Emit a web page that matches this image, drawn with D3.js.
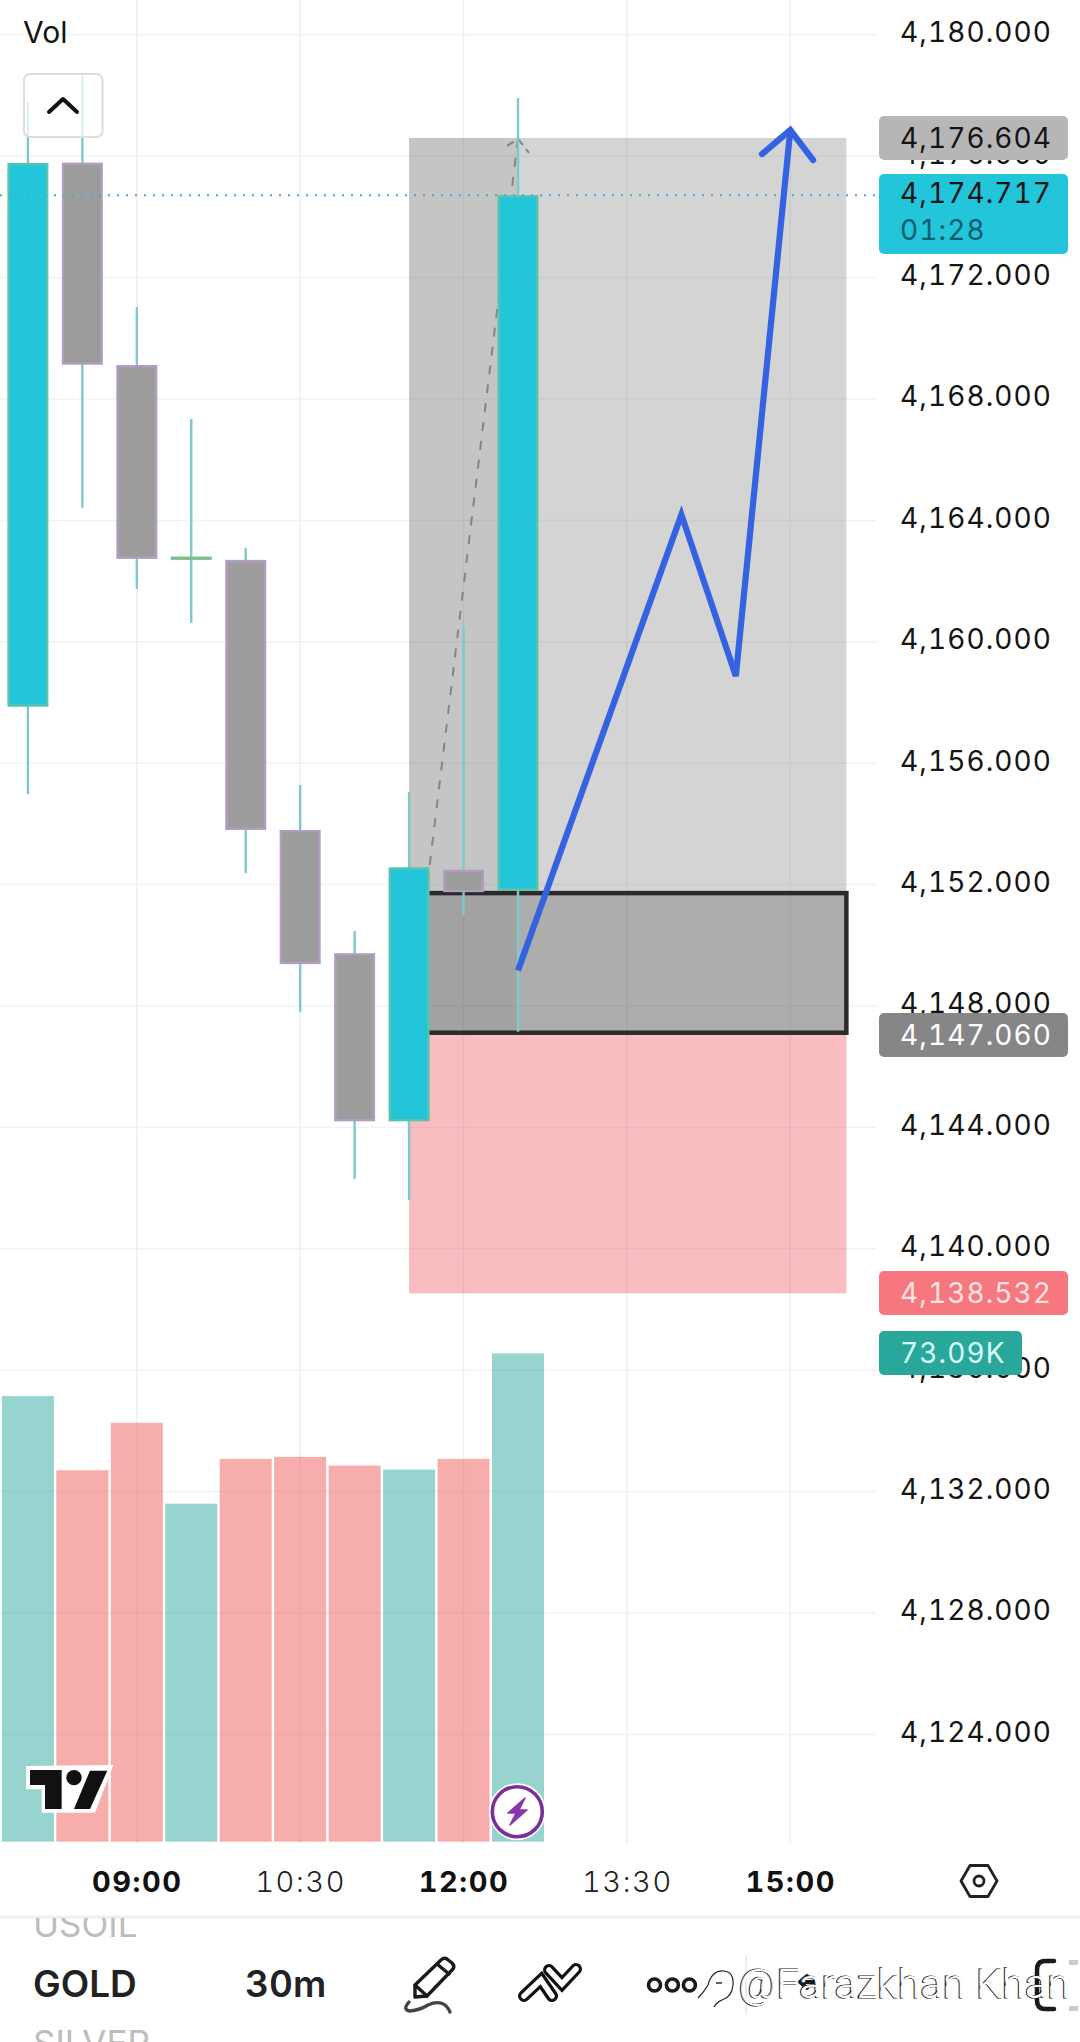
<!DOCTYPE html>
<html><head><meta charset="utf-8">
<script src="https://cdn.jsdelivr.net/npm/d3@7/dist/d3.min.js"></script>
<style>html,body{margin:0;padding:0;background:#fff}svg{display:block}text{font-family:Inter,Roboto,sans-serif;font-variant-numeric:tabular-nums;font-feature-settings:"tnum" 1}</style>
</head><body><svg id="c" width="1080" height="2042"></svg>
<script>
const priceTicks=[4180,4176,4172,4168,4164,4160,4156,4152,4148,4144,4140,4136,4132,4128,4124];
const timeTickIdx=[2,5,8,11,14];
const timeTickLabels=["09:00","10:30","12:00","13:30","15:00"];
const timeTickBold=[true,false,true,false,true];
const opens=[4157.86,4175.79,4169.12,4162.70,4162.70,4153.80,4149.74,4144.20,4152.49,4151.80];
const closes=[4175.78,4169.13,4162.73,4162.77,4153.80,4149.38,4144.20,4152.57,4151.75,4174.717];
const highs=[4177.75,4178.64,4171.03,4167.34,4163.09,4155.28,4150.47,4155.05,4160.49,4177.92];
const lows=[4154.98,4164.42,4161.74,4160.62,4152.38,4147.81,4142.30,4141.61,4150.98,4147.15];
const candleUp=[true,false,false,true,false,false,false,true,false,true];
const volumes=[66.7,55.6,62.7,50.6,57.3,57.6,56.3,55.7,57.3,73.09];
const volUp=[true,false,false,true,false,false,false,true,false,true];
const targetPrice=4176.604,entryPrice=4147.06,stopPrice=4138.532,lastPrice=4174.717;
const boxTop=4151.72,boxBottom=4147.12;
const posFrom=7,posMid=9,posTo=15.03;
const pathIdx=[9,12,13,14];
const pathPrice=[4149.17,4164.19,4158.87,4176.86];
const headIdx=[13.48,14,14.42];
const headPrice=[4176.07,4176.86,4175.87];
const tags=[
 {label:"4,176.604",price:targetPrice,fill:"#b6b6b6",color:"#141414"},
 {label:"4,147.060",price:entryPrice,fill:"#868686",color:"#fff"},
 {label:"4,138.532",price:stopPrice,fill:"#f6777d",color:"#ffe3e4"}];

const svg=d3.select("#c");
const y=d3.scaleLinear().domain([4180,4124]).range([34.8,1734.4]);
const x=d3.scaleLinear().domain([0,9]).range([27.9,518]);
const vy=d3.scaleLinear().domain([0,73.09]).range([1841.7,1353.4]);
const bw=41;

// grid
const grid=svg.append("g");
grid.selectAll(".h").data(priceTicks).join("line").attr("x1",0).attr("x2",877)
 .attr("y1",d=>y(d)).attr("y2",d=>y(d)).attr("stroke","#f0f2f4").attr("stroke-width",1.5);
grid.selectAll(".v").data(timeTickIdx).join("line").attr("x1",d=>x(d)).attr("x2",d=>x(d))
 .attr("y1",0).attr("y2",1843).attr("stroke","#eef0f3").attr("stroke-width",1.5);

// volume
svg.append("g").selectAll("rect").data(volumes).join("rect")
 .attr("x",(d,i)=>x(i)-26).attr("width",52).attr("y",d=>vy(d)).attr("height",d=>vy(0)-vy(d))
 .attr("fill",(d,i)=>volUp[i]?"#26a69a":"#ef5350").attr("fill-opacity",.48);

// position tool
const pos=svg.append("g");
pos.append("rect").attr("x",x(posFrom)).attr("width",x(posTo)-x(posFrom)).attr("y",y(targetPrice)).attr("height",y(entryPrice)-y(targetPrice)).attr("fill","#808080").attr("fill-opacity",.34);
pos.append("rect").attr("x",x(posFrom)).attr("width",x(posTo)-x(posFrom)).attr("y",y(entryPrice)).attr("height",y(stopPrice)-y(entryPrice)).attr("fill","#ee3542").attr("fill-opacity",.33);
pos.append("rect").attr("x",x(posFrom)).attr("width",x(posMid)-x(posFrom)).attr("y",y(targetPrice)).attr("height",y(entryPrice)-y(targetPrice)).attr("fill","#000").attr("fill-opacity",.07);
pos.append("rect").attr("x",x(posFrom)).attr("width",x(posTo)-x(posFrom)).attr("y",y(boxTop)).attr("height",y(boxBottom)-y(boxTop)).attr("fill","#3c3c3c").attr("fill-opacity",.26).attr("stroke","#2b2b2b").attr("stroke-width",4.5);
const pl=d3.line();
pos.append("path").attr("d",pl([[x(posFrom),y(entryPrice)],[x(posMid),y(targetPrice)]])).attr("fill","none").attr("stroke","#858585").attr("stroke-width",2).attr("stroke-dasharray","9 10");
pos.append("path").attr("d",pl([[x(posMid)-11,y(targetPrice)+8],[x(posMid),y(targetPrice)+1],[x(posMid)+11,y(targetPrice)+15]])).attr("fill","none").attr("stroke","#858585").attr("stroke-width",2).attr("stroke-dasharray","8 5");

// candles
const cg=svg.append("g").selectAll("g").data(opens).join("g");
cg.append("line").attr("x1",(d,i)=>x(i)).attr("x2",(d,i)=>x(i)).attr("y1",(d,i)=>y(highs[i])).attr("y2",(d,i)=>y(lows[i]))
 .attr("stroke","#7fc8cc").attr("stroke-width",2.4);
cg.append("rect").attr("x",(d,i)=>x(i)-bw/2+1.2).attr("width",bw-2.4)
 .attr("y",(d,i)=>y(Math.max(opens[i],closes[i]))+(i===3?0:1.2))
 .attr("height",(d,i)=>i===3?1:Math.abs(y(opens[i])-y(closes[i]))-2.4)
 .attr("fill",(d,i)=>i===3?"#7fbd8f":candleUp[i]?"#22c5da":"#9c9c9c")
 .attr("stroke",(d,i)=>i===3?"#7fbd8f":candleUp[i]?"#57c4ad":"#b29cc0").attr("stroke-width",2.4);

// last price line
svg.append("line").attr("x1",0).attr("x2",878).attr("y1",y(lastPrice)).attr("y2",y(lastPrice)).attr("stroke","#45a9cf").attr("stroke-width",2).attr("stroke-dasharray","2 7");

// hand-drawn path
const pathPts=pathIdx.map((d,i)=>[x(d),y(pathPrice[i])]);
const headPts=headIdx.map((d,i)=>[x(d),y(headPrice[i])]);
const blue=svg.append("g").attr("fill","none").attr("stroke","#3462e0").attr("stroke-width",6.2).attr("stroke-linejoin","miter");
blue.append("path").attr("d",pl(pathPts));
blue.append("path").attr("d",pl(headPts)).attr("stroke-linecap","round");

// price axis
const FS=28,LS="1.1";
const axY=d3.axisRight(y).tickValues(priceTicks).tickFormat(d3.format(",.3f")).tickSize(0).tickPadding(0);
const gy=svg.append("g").attr("transform","translate(900,-2)").call(axY);
gy.select(".domain").remove();
gy.selectAll("text").attr("font-size",FS).attr("fill","#141414").attr("letter-spacing",LS).style("font-family","Inter");

// time axis
const axX=d3.axisBottom(x).tickValues(timeTickIdx).tickFormat((d,i)=>timeTickLabels[i]).tickSize(0).tickPadding(0);
const gx=svg.append("g").attr("transform","translate(0,1870)").call(axX);
gx.select(".domain").remove();
gx.selectAll("text").attr("font-size",29).attr("dy",0).attr("y",0).attr("dominant-baseline","hanging").attr("letter-spacing","1.6")
 .attr("font-weight",(d,i)=>timeTickBold[i]?700:300).attr("fill",(d,i)=>timeTickBold[i]?"#111":"#222").style("font-family","Inter");

// tags
const tag=svg.append("g").selectAll("g").data(tags).join("g");
tag.append("rect").attr("x",879).attr("width",189).attr("y",d=>Math.round(y(d.price))-22).attr("height",44).attr("rx",5).attr("fill",d=>d.fill);
tag.append("text").attr("x",900).attr("y",d=>y(d.price)+10).text(d=>d.label).attr("font-size",FS).attr("letter-spacing",LS).attr("fill",d=>d.color);
svg.append("rect").attr("x",879).attr("y",174).attr("width",189).attr("height",80).attr("rx",5).attr("fill","#22c5da");
svg.append("text").attr("x",900).attr("y",203).text(d3.format(",.3f")(lastPrice)).attr("font-size",FS).attr("letter-spacing",LS).attr("fill","#141414");
svg.append("text").attr("x",900).attr("y",240).text("01:28").attr("font-size",FS).attr("letter-spacing",LS).attr("fill","#0b5d6e");
svg.append("rect").attr("x",879).attr("y",1331).attr("width",143).attr("height",44).attr("rx",5).attr("fill","#2aa79b");
svg.append("text").attr("x",900).attr("y",1363).text(d3.format(".2f")(volumes[9])+"K").attr("font-size",FS).attr("letter-spacing",LS).attr("fill","#d8fff9");

// top left UI
svg.append("text").attr("x",23).attr("y",43).text("Vol").attr("font-size",30).attr("fill","#141414");
svg.append("rect").attr("x",24).attr("y",74).attr("width",78.5).attr("height",63).attr("rx",6).attr("fill","#fff").attr("fill-opacity",.72).attr("stroke","#dcdcdc").attr("stroke-width",2);
svg.append("path").attr("d","M49 112L63 99L77 112").attr("fill","none").attr("stroke","#111").attr("stroke-width",4).attr("stroke-linecap","round").attr("stroke-linejoin","round");

// TradingView logo
const logo=svg.append("g").attr("transform","translate(0,1740) scale(.3333)");
logo.append("path").attr("d","M78 78L340 75L285 218L125 218L125 148L78 148Z").attr("fill","#fff");
logo.append("path").attr("d","M90 90H185V207H135V135H90ZM270 92H322L270 207H222Z").attr("fill","#111");
logo.append("circle").attr("cx",222).attr("cy",113).attr("r",23).attr("fill","#111");

// bolt
svg.append("circle").attr("cx",517.3).attr("cy",1811.7).attr("r",28.5).attr("fill","#fff");
svg.append("circle").attr("cx",517.3).attr("cy",1811.7).attr("r",25).attr("fill","#fff").attr("stroke","#7d2f98").attr("stroke-width",3.6);
svg.append("path").attr("d","M525 1798L508 1813H516L510 1825L527 1810H519Z").attr("fill","#8a35ad").attr("stroke","#8a35ad").attr("stroke-width",1.5).attr("stroke-linejoin","round");

// hexagon
svg.append("path").attr("d","M961 1881L970 1865.5H988L997 1881L988 1896.5H970Z").attr("fill","none").attr("stroke","#222").attr("stroke-width",2.8).attr("stroke-linejoin","round");
svg.append("circle").attr("cx",979).attr("cy",1881).attr("r",5).attr("fill","none").attr("stroke","#222").attr("stroke-width",2.8);

// bottom toolbar
svg.append("rect").attr("x",0).attr("y",1915.5).attr("width",1080).attr("height",3).attr("fill","#efefef");
const defs=svg.append("defs");
defs.append("clipPath").attr("id","tb").append("rect").attr("x",0).attr("y",1918).attr("width",1080).attr("height",124);
const tb=svg.append("g").attr("clip-path","url(#tb)");
tb.append("text").attr("x",33).attr("y",1937).text("USOIL").attr("font-size",35).attr("fill","#bdbdbd");
tb.append("text").attr("x",33).attr("y",2056).text("SILVER").attr("font-size",35).attr("fill","#bdbdbd");
tb.append("text").attr("x",33).attr("y",1997).text("GOLD").attr("font-size",37).attr("font-weight",600).attr("fill","#222");
tb.append("text").attr("x",245).attr("y",1997).text("30m").attr("font-size",37).attr("font-weight",600).attr("fill","#222");
const ic=tb.append("g").attr("fill","none").attr("stroke","#1a1a1a").attr("stroke-width",3.4).attr("stroke-linejoin","round").attr("stroke-linecap","round");
ic.append("path").attr("d","M415 1985L441 1960Q444 1957 447 1959L452 1963Q455 1966 453 1969L427 1996L415 1997Z");
ic.append("path").attr("d","M437 1964L449 1974M415 1985L427 1996");
ic.append("path").attr("d","M409 2002Q402 2010 410 2011Q420 2010 428 2005Q444 1998 450 2012").attr("stroke","#444");
const ch=tb.append("g").attr("fill","none").attr("stroke-linejoin","miter").attr("stroke-linecap","round");
[["#111",12],["#fff",5.5]].forEach(([c,w])=>{
 ch.append("path").attr("d","M524 1996L541 1980L552 1996").attr("stroke",c).attr("stroke-width",w);
 ch.append("path").attr("d","M549 1970L562 1984L576 1969").attr("stroke",c).attr("stroke-width",w);
});
[654.5,672.4,689.4].forEach(cx=>ic.append("circle").attr("cx",cx).attr("cy",1985).attr("r",6).attr("stroke-width",3.6));
tb.append("line").attr("x1",746).attr("x2",746).attr("y1",1955).attr("y2",2015).attr("stroke","#e6e6e6").attr("stroke-width",1.5);
ic.append("path").attr("d","M815 1982H800M807 1976L800 1982L807 1988").attr("stroke-width",4);
ic.append("path").attr("d","M1054 1961H1045Q1037 1961 1037 1970V2000Q1037 2009 1045 2009H1054").attr("stroke-width",4.5);
tb.append("rect").attr("x",1069).attr("y",1960).attr("width",9).attr("height",5).attr("fill","#ccc");
tb.append("rect").attr("x",1069).attr("y",2006).attr("width",9).attr("height",5).attr("fill","#ccc");

// watermark
const wm=tb.append("g").attr("fill","none");
wm.append("path").attr("d","M698 1998Q704 1992 708 1985Q712 1970 724 1971Q734 1972 733 1985Q732 1997 722 2000Q716 2003 714 2007").attr("stroke","#222").attr("stroke-width",1.2);
wm.append("path").attr("d","M716 1983H722").attr("stroke","#222").attr("stroke-width",1.4);
[["#222",738,1],["#fff",739.2,0]].forEach(([c,xx,sw])=>{
 wm.append("text").attr("x",xx).attr("y",1998).text("@Farazkhan Khan").attr("font-size",41).attr("font-weight",300).style("font-family","Roboto").attr("fill","#fff").attr("stroke",sw?c:"none").attr("stroke-width",sw).attr("textLength",331);
});
</script></body></html>
